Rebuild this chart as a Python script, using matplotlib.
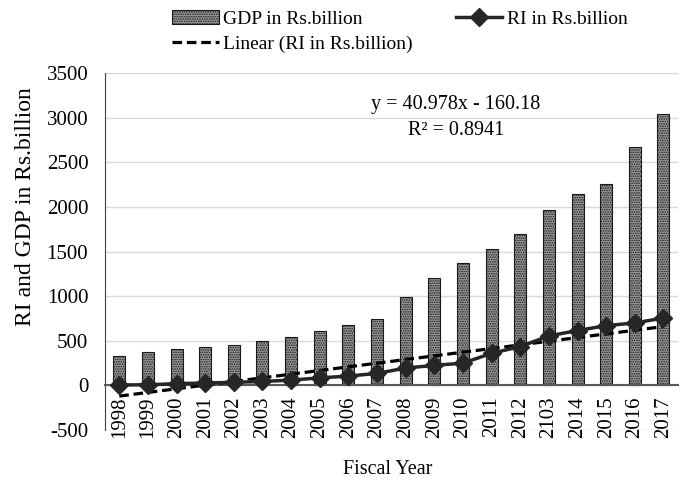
import numpy as np
import matplotlib
matplotlib.use("Agg")
import matplotlib.pyplot as plt

years = ["1998", "1999", "2000", "2001", "2002", "2003", "2004", "2005", "2006", "2007",
         "2008", "2009", "2010", "2011", "2012", "2103", "2014", "2015", "2016", "2017"]
gdp = [330, 370, 405, 430, 455, 495, 545, 610, 675, 748,
       995, 1198, 1366, 1531, 1695, 1960, 2139, 2251, 2673, 3043]
ri = [5, 8, 20, 28, 35, 45, 60, 85, 105, 135,
      195, 225, 250, 360, 435, 555, 615, 670, 700, 755]
slope, intercept = 40.978, -160.18

plt.rcParams['font.family'] = ['Liberation Serif', 'DejaVu Serif']
plt.rcParams['axes.unicode_minus'] = False
plt.rcParams['hatch.linewidth'] = 0.8

fig = plt.figure(figsize=(6.86, 4.86), dpi=100)
ax = fig.add_axes([0.153, 0.115, 0.835, 0.735])

# x axis crosses at 0, set before tick labels (set_position resets ticks)
ax.spines['bottom'].set_position(('data', 0))
ax.spines['bottom'].set_color('#595959')
ax.spines['bottom'].set_linewidth(1.5)
ax.spines['left'].set_color('#404040')
ax.spines['top'].set_visible(False)
ax.spines['right'].set_visible(False)

x = np.arange(len(years))
bars = ax.bar(x, gdp, width=0.42, facecolor='#9a9a9a', edgecolor='#1a1a1a', hatch='.......',
              linewidth=0.8, zorder=2)
ri_line, = ax.plot(x, ri, color='#262626', lw=2.5, marker='D', markersize=9, zorder=4)
trend = slope * (x + 1) + intercept
tr_line, = ax.plot(x, trend, color='black', lw=2.3, ls=(0, (3, 1.5)), zorder=3)

ax.set_ylim(-500, 3500)
ax.set_yticks(range(-500, 3501, 500))
ax.set_xlim(-0.5, len(years) - 0.5)
ax.set_xticks(x)
ax.set_xticklabels(years, rotation=90, fontsize=15)
ax.tick_params(axis='y', labelsize=15, length=0, pad=12)
ax.tick_params(axis='x', length=0, pad=8)
ax.yaxis.grid(True, color='#d9d9d9', lw=1)
ax.set_axisbelow(True)

ax.set_ylabel('RI and GDP in Rs.billion', fontsize=17)
ax.yaxis.set_label_coords(-0.12, 0.625)
fig.text(0.565, 0.025, 'Fiscal Year', ha='center', fontsize=14.5)

ax.text(0.613, 0.9, 'y = 40.978x - 160.18', transform=ax.transAxes,
        ha='center', fontsize=14.5)
ax.text(0.613, 0.825, 'R² = 0.8941', transform=ax.transAxes,
        ha='center', fontsize=14.5)

fig.legend([bars, tr_line, ri_line],
           ['GDP in Rs.billion', 'Linear (RI in Rs.billion)', 'RI in Rs.billion'],
           ncol=2, loc='upper left', bbox_to_anchor=(0.225, 1.015), frameon=False,
           fontsize=14, handlelength=2.4, columnspacing=2.2, labelspacing=0.4,
           handletextpad=0.25)

fig.savefig('out.png', dpi=100)
